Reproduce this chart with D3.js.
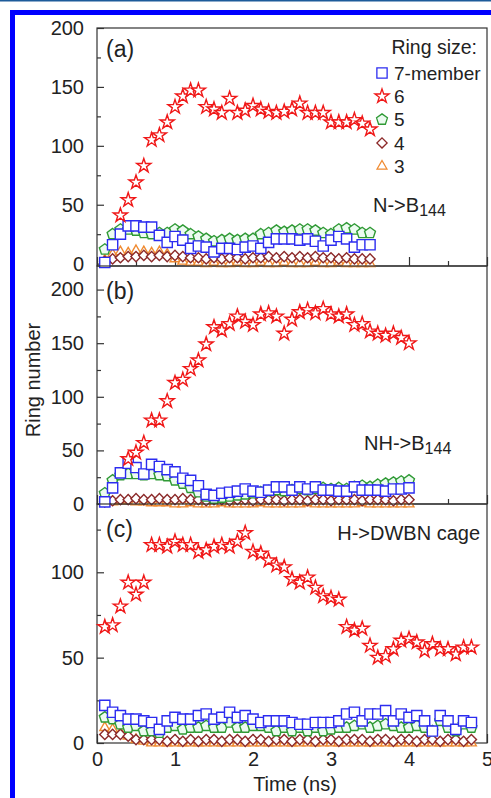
<!DOCTYPE html>
<html>
<head>
<meta charset="utf-8">
<script src="https://cdn.jsdelivr.net/npm/d3@7"></script>
<style>
body{margin:0;background:#fff;}
svg text{font-family:"Liberation Sans",Arial,sans-serif;fill:#222;}
</style>
</head>
<body>
<div id="canvas"></div>
<script>
// sampling times (ns), shared by all panels
var timeNs = [0.1,0.2,0.3,0.4,0.5,0.6,0.7,0.8,0.9,1.0,1.1,1.2,1.3,1.4,1.5,1.6,1.7,1.8,1.9,2.0,
              2.1,2.2,2.3,2.4,2.5,2.6,2.7,2.8,2.9,3.0,3.1,3.2,3.3,3.4,3.5,3.6,3.7,3.8,3.9,4.0,
              4.1,4.2,4.3,4.4,4.5,4.6,4.7,4.8];

var ringNames = ['7-member','6','5','4','3'];

// (a) N->B144
var sevenA = [1,16,25,32,32,31,31,24,18,23,20,13,15,14,10,13,13,12,14,15,13,18,21,21,21,20,21,19,15,20,23,21,14,16,16];
var sixA   = [null,null,41,54,69,83,105,109,120,133,142,147,147,133,131,128,140,128,130,134,131,129,128,129,131,136,128,128,128,120,120,120,122,119,114];
var fiveA  = [12,25,29,29,28,26,25,26,26,29,28,25,23,21,19,20,21,20,21,21,25,26,28,27,28,29,29,28,26,25,29,30,29,26,26];
var fourA  = [2,4,5,6,6,7,6,7,6,7,6,5,5,4,5,4,5,5,4,5,5,6,5,6,5,6,5,6,5,5,4,5,4,4,4];
var threeA = [3,8,10,9,11,10,9,10,8,4,2,1,1,0,1,0,0,1,0,0,1,0,0,1,0,0,0,1,0,0,1,0,0,0,0];

// (b) NH->B144
var sevenB = [2,15,29,38,34,28,37,35,32,30,24,22,17,9,8,10,11,12,14,12,11,13,16,16,13,16,14,16,13,13,12,12,16,13,13,13,12,14,14,15];
var sixB   = [null,null,null,42,48,57,78,78,96,113,116,126,134,149,165,162,168,175,170,167,177,178,175,159,172,179,181,178,182,177,175,177,167,168,161,159,157,159,155,150];
var fiveB  = [10,22,27,28,28,27,28,27,26,22,19,15,11,7,5,6,7,8,9,10,11,12,13,12,13,14,13,14,15,14,15,14,16,17,16,18,19,20,21,22];
var fourB  = [2,3,4,4,5,4,4,5,4,4,5,4,4,3,4,4,3,4,4,3,4,4,4,3,4,4,3,4,4,3,4,4,4,3,4,4,4,3,4,4];
var threeB = [1,2,3,3,2,2,1,1,1,0,0,1,0,0,0,1,0,0,0,0,1,0,0,0,0,0,1,0,0,0,0,0,0,1,0,0,0,0,0,0];

// (c) H->DWBN cage
var sevenC = [22,18,16,14,14,13,12,8,13,15,14,14,16,17,14,15,18,15,16,14,12,13,13,13,12,11,11,12,12,12,13,17,18,13,17,17,19,13,17,15,16,13,7,16,13,8,13,12];
var sixC   = [68,69,80,94,87,94,116,116,115,118,116,116,112,113,115,116,115,118,123,112,111,107,104,103,96,94,97,91,86,85,84,68,66,67,57,50,51,55,60,61,59,54,58,55,55,52,56,56];
var fiveC  = [15,14,11,9,10,7,7,6,9,10,8,9,9,10,9,9,12,9,9,10,10,9,7,9,7,9,7,9,7,8,9,9,10,11,9,10,11,10,9,9,10,9,7,13,9,7,11,9];
var fourC  = [5,5,5,4,2,2,2,2,1,2,1,2,1,2,2,1,2,2,1,2,2,1,2,2,1,2,2,1,2,2,1,2,2,2,1,2,2,1,2,2,1,2,2,1,2,2,1,2];
var threeC = [9,8,6,4,2,1,0,0,0,0,0,0,0,0,0,0,0,0,0,0,0,0,0,0,0,0,0,0,0,0,0,0,0,0,0,0,0,0,0,0,0,0,0,0,0,0,0,0];

var W = 491, H = 798;
var svg = d3.select('#canvas').append('svg')
    .attr('width', W)
    .attr('height', H);

// journal frame
svg.append('rect').attr('x',0).attr('y',0).attr('width',W).attr('height',1.5).attr('fill','#1d5b9a');
svg.append('rect').attr('x',10).attr('y',10).attr('width',W-10).attr('height',5).attr('fill','#0000ff');
svg.append('rect').attr('x',10).attr('y',10).attr('width',5).attr('height',H-10).attr('fill','#0000ff');

var x = d3.scaleLinear().domain([0,5]).range([97,487]);

// pentagon symbol (d3 has none)
var symbolPentagon = {
    draw: function(ctx, size){
        var r = Math.sqrt(size/2.378);
        for (var i=0;i<5;i++){
            var a = -Math.PI/2 + i*2*Math.PI/5;
            if(i==0) ctx.moveTo(r*Math.cos(a), r*Math.sin(a));
            else ctx.lineTo(r*Math.cos(a), r*Math.sin(a));
        }
        ctx.closePath();
    }
};

// marker style per ring size, in legend order
var styles = [
    {type:d3.symbolSquare,  size:105, color:'#2c2cf0', fill:'#fff',    rot:0},
    {type:d3.symbolStar,    size:62,  color:'#f01818', fill:'#fff',    rot:0},
    {type:symbolPentagon,   size:78,  color:'#2f9a35', fill:'#ecfbf0', rot:0},
    {type:d3.symbolSquare,  size:52,  color:'#8c2a2a', fill:'#fff',    rot:45},
    {type:d3.symbolTriangle,size:42,  color:'#f08a30', fill:'#fff',    rot:0}
];

var panels = [
    {label:'(a)', name:'N->B', sub:'144', domain:[-2,200], range:[266,28],
     major:[0,50,100,150,200], minor:[25,75,125,175], xLabels:false,
     series:[sevenA,sixA,fiveA,fourA,threeA], tagX:373, tagY:212, labY:57},
    {label:'(b)', name:'NH->B', sub:'144', domain:[0,222], range:[504,266],
     major:[0,50,100,150,200], minor:[25,75,125,175], xLabels:false,
     series:[sevenB,sixB,fiveB,fourB,threeB], tagX:364, tagY:450, labY:299},
    {label:'(c)', name:'H->DWBN cage', sub:'', domain:[0,140], range:[743,504],
     major:[0,50,100], minor:[25,75,125], xLabels:true,
     series:[sevenC,sixC,fiveC,fourC,threeC], tagX:480, tagY:540, labY:537}
];

panels.forEach(function(p){
    var y = d3.scaleLinear().domain(p.domain).range(p.range);
    var g = svg.append('g');

    g.append('rect')
        .attr('x', x(0)).attr('y', p.range[1])
        .attr('width', x(5)-x(0)).attr('height', p.range[0]-p.range[1])
        .attr('fill','none').attr('stroke','#333').attr('stroke-width',1.2);

    // y axis, ticks pointing inward
    g.append('g').attr('transform','translate('+x(0)+',0)')
        .call(d3.axisLeft(y).tickValues(p.major).tickSize(-7).tickPadding(13));
    g.append('g').attr('transform','translate('+x(0)+',0)')
        .call(d3.axisLeft(y).tickValues(p.minor).tickSize(-4).tickFormat(''));

    // x axis ticks along panel bottom
    g.append('g').attr('transform','translate(0,'+p.range[0]+')')
        .call(d3.axisBottom(x).tickValues([0,1,2,3,4,5]).tickSize(-9).tickPadding(9)
            .tickFormat(p.xLabels ? d3.format('d') : ''));
    g.append('g').attr('transform','translate(0,'+p.range[0]+')')
        .call(d3.axisBottom(x).tickValues([0.5,1.5,2.5,3.5,4.5]).tickSize(-5).tickFormat(''));

    g.selectAll('.domain').remove();
    g.selectAll('.tick line').attr('stroke','#333').attr('stroke-width',1.2);
    g.selectAll('.tick text').attr('font-size',20).attr('font-family','"Liberation Sans",Arial,sans-serif').attr('fill','#222');

    // series, drawn back to front: 3,4,5,7,6
    [4,3,2,0,1].forEach(function(k){
        var st = styles[k];
        var pts = p.series[k].map(function(v,i){ return {t:timeNs[i], v:v}; })
            .filter(function(d){ return d.v != null; });
        g.append('g').selectAll('path')
            .data(pts)
            .enter()
            .append('path')
            .attr('d', d3.symbol().type(st.type).size(st.size))
            .attr('transform', function(d){
                return 'translate('+x(d.t)+','+y(d.v)+') rotate('+st.rot+')';
            })
            .attr('fill', st.fill)
            .attr('stroke', st.color)
            .attr('stroke-width', 1.4);
    });

    g.append('text').attr('x',106).attr('y',p.labY).attr('font-size',23).text(p.label);

    var tag = g.append('text').attr('x',p.tagX).attr('y',p.tagY).attr('font-size',20)
        .attr('text-anchor', p.sub ? 'start' : 'end')
        .text(p.name);
    if (p.sub) tag.append('tspan').attr('font-size',16).attr('dy',4).text(p.sub);
});

// legend in panel (a)
svg.append('text').attr('x',477).attr('y',54).attr('text-anchor','end').attr('font-size',19.5).text('Ring size:');
var leg = svg.append('g').selectAll('g')
    .data(ringNames)
    .enter()
    .append('g')
    .attr('transform', function(d,i){ return 'translate(382,'+(73+i*23.3)+')'; });
leg.append('path')
    .attr('d', function(d,i){ return d3.symbol().type(styles[i].type).size(styles[i].size)(); })
    .attr('transform', function(d,i){ return 'rotate('+styles[i].rot+')'; })
    .attr('fill', function(d,i){ return styles[i].fill; })
    .attr('stroke', function(d,i){ return styles[i].color; })
    .attr('stroke-width',1.3);
leg.append('text').attr('x',12).attr('dy','0.35em').attr('font-size',19).text(function(d){ return d; });

// axis titles
svg.append('text').attr('transform','translate(40,380) rotate(-90)')
    .attr('text-anchor','middle').attr('font-size',20).text('Ring number');
svg.append('text').attr('x',295).attr('y',791)
    .attr('text-anchor','middle').attr('font-size',20).text('Time (ns)');
</script>
</body>
</html>
